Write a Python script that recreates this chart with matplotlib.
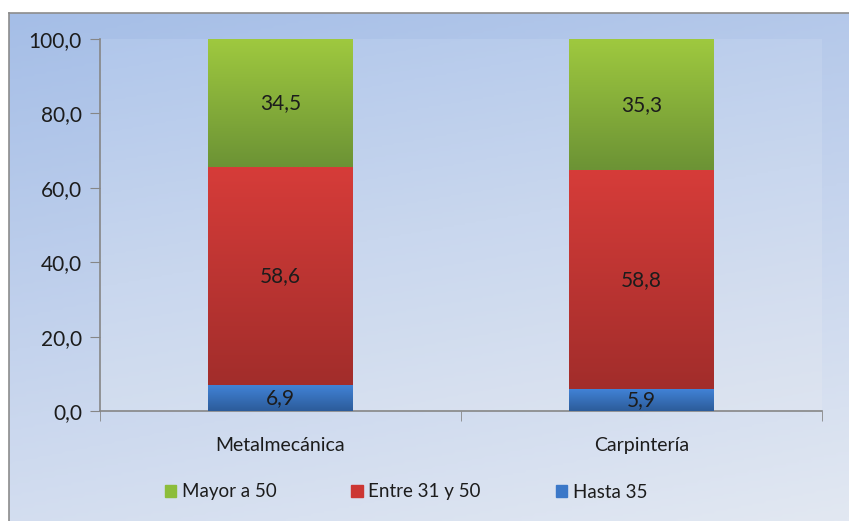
import numpy as np
import matplotlib
matplotlib.use("Agg")
import matplotlib.pyplot as plt
from matplotlib.colors import LinearSegmentedColormap
from matplotlib.patches import Rectangle

plt.rcParams['font.family'] = ['Lato', 'DejaVu Sans']

categories = ["Metalmecánica", "Carpintería"]
hasta_35 = [6.9, 5.9]
entre_31_50 = [58.6, 58.8]
mayor_50 = [34.5, 35.3]
series_names = ["Hasta 35", "Entre 31 y 50", "Mayor a 50"]
yticks = [0, 20, 40, 60, 80, 100]

# (top colour, bottom colour) for the excel-like gradient fill
grad = {
    "Hasta 35": ("#4182d6", "#2c5c9a"),
    "Entre 31 y 50": ("#d63c39", "#a22d2b"),
    "Mayor a 50": ("#9fc93f", "#6c9335"),
}
solid = {"Hasta 35": "#3b78c8", "Entre 31 y 50": "#cc3633", "Mayor a 50": "#8cbd3a"}

fig = plt.figure(figsize=(8.49, 5.21), dpi=100)
fig.patch.set_facecolor("white")

# outer chart-area background, mostly vertical gradient, darker top-left
W, H = 849, 521
bg = fig.add_axes([9 / W, 0, 1 - 9 / W, 1 - 13 / H], zorder=0)
xx, yy = np.meshgrid(np.linspace(0, 1, 200), np.linspace(0, 1, 200))
t = 0.3 * (1 - xx) * (1 - yy)
t = 0.25 * xx + 0.75 * yy
bg_cmap = LinearSegmentedColormap.from_list("bg", ["#a5bee7", "#c4d3ed", "#e2e8f2"])
bg.imshow(t, cmap=bg_cmap, aspect="auto", extent=[0, 1, 1, 0], origin="upper")
bg.set_xlim(0, 1)
bg.set_ylim(1, 0)
bg.set_xticks([])
bg.set_yticks([])
for s in ["right", "bottom"]:
    bg.spines[s].set_visible(False)
for s in ["left", "top"]:
    bg.spines[s].set_color("#8c8c8c")
    bg.spines[s].set_linewidth(1.2)

ax = fig.add_axes([100 / W, (H - 411) / H, (822 - 100) / W, (411 - 39) / H], zorder=1)
ax.patch.set_alpha(0)

# plot-area gradient, only slightly lighter than the outer one
pa_cmap = LinearSegmentedColormap.from_list("pa", ["#b4c9ec", "#ccd9ef", "#dfe6f1"])
ax.imshow(0.25 * xx + 0.75 * yy, cmap=pa_cmap, aspect="auto", extent=[0, 1, 0, 1],
          origin="upper", transform=ax.transAxes, zorder=0, alpha=0.8)

x = np.arange(len(categories))
width = 0.4
bottom = np.zeros(len(categories))
data = {"Hasta 35": hasta_35, "Entre 31 y 50": entre_31_50, "Mayor a 50": mayor_50}
grad_img = np.linspace(0, 1, 100).reshape(-1, 1)
for name in series_names:
    vals = np.array(data[name])
    bars = ax.bar(x, vals, width, bottom=bottom, color=solid[name], zorder=2,
                  label=name, linewidth=0)
    cm = LinearSegmentedColormap.from_list(name, [grad[name][0], grad[name][1]])
    for b, v, b0 in zip(bars, vals, bottom):
        bx, by = b.get_x(), b.get_y()
        im = ax.imshow(grad_img, cmap=cm, aspect="auto", origin="upper",
                       extent=[bx, bx + b.get_width(), by, by + b.get_height()], zorder=3)
        im.set_clip_path(b)
        ax.text(b.get_x() + b.get_width() / 2, b0 + v / 2, f"{v:.1f}".replace(".", ","),
                ha="center", va="center", fontsize=15, color="#1c1c1c", zorder=4)
    bottom = bottom + vals

ax.set_xlim(-0.5, len(categories) - 0.5)
ax.set_ylim(0, 100)
ax.set_yticks(yticks)
ax.set_yticklabels([f"{v:.1f}".replace(".", ",") for v in yticks], fontsize=15, color="#1c1c1c")
ax.set_xticks(x)
ax.set_xticklabels(categories, fontsize=14, color="#1c1c1c")
ax.tick_params(axis="x", length=0, pad=19)
ax.set_xticks(np.arange(-0.5, len(categories)), minor=True)
ax.tick_params(axis="x", which="minor", length=7, color="#868686", direction="out")
ax.tick_params(axis="y", length=7, color="#868686", pad=6)
for s in ["top", "right"]:
    ax.spines[s].set_visible(False)
for s in ["left", "bottom"]:
    ax.spines[s].set_color("#868686")
    ax.spines[s].set_linewidth(1.2)

handles = [Rectangle((0, 0), 1, 1, color=solid[n]) for n in reversed(series_names)]
fig.legend(handles, list(reversed(series_names)), loc="center", bbox_to_anchor=(0.478, 1 - 492 / H),
           ncol=3, frameon=False, fontsize=13.5, handlelength=0.6, handleheight=0.6,
           handletextpad=0.3, columnspacing=4.0, labelcolor="#1c1c1c")

fig.savefig("out.png", dpi=100)
